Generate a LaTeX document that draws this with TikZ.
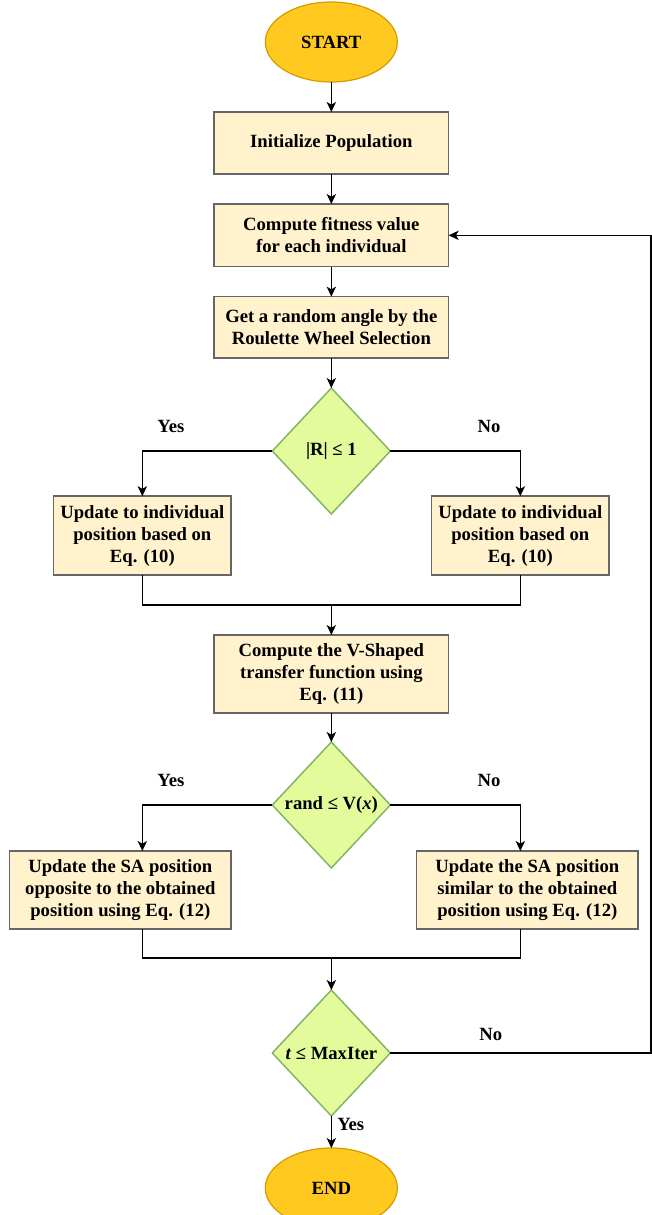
\documentclass[tikz,border=0pt]{standalone}
\usepackage{fontspec}
\setmainfont{Liberation Serif}
\usetikzlibrary{arrows.meta,positioning,shapes.geometric,calc}

\definecolor{termfill}{HTML}{FFC91F}
\definecolor{termline}{HTML}{D79B00}
\definecolor{procfill}{HTML}{FFF2CC}
\definecolor{procline}{HTML}{666666}
\definecolor{decfill}{HTML}{E4FB9C}
\definecolor{decline}{HTML}{82B366}

\begin{document}
\begin{tikzpicture}[font=\fontsize{14}{16.5}\selectfont\bfseries, node distance=22.5pt]

% Styles
\tikzset{
  terminal/.style={
    ellipse,
    draw=termline,
    fill=termfill,
    line width=0.9pt,
    minimum width=99pt,
    minimum height=60pt,
    inner sep=0pt,
    outer sep=0pt
  },
  process/.style={
    draw=procline,
    fill=procfill,
    line width=1.1pt,
    rectangle,
    minimum width=176pt,
    minimum height=46.5pt,
    inner sep=3pt,
    outer sep=0pt,
    align=center
  },
  update/.style={
    process,
    minimum width=133pt,
    minimum height=59pt
  },
  updatesa/.style={
    process,
    minimum width=166pt,
    minimum height=58.5pt
  },
  decision/.style={
    diamond,
    draw=decline,
    fill=decfill,
    line width=1.1pt,
    minimum width=88.5pt,
    minimum height=94.5pt,
    inner sep=0pt,
    outer sep=0pt,
    align=center
  },
  flow/.style={
    -{Stealth[length=7.5pt, width=7pt, inset=2pt]},
    line width=0.9pt
  },
  link/.style={
    line width=0.9pt
  },
  answer/.style={
    inner sep=1pt
  }
}

% Page frame
\useasboundingbox (0,0) rectangle (489pt,-911.25pt);

% Main column
\node[terminal] (start) at (248.5pt,-31.5pt) {START};
\node[process, below=of start] (init) {Initialize Population};
\node[process, below=of init, minimum height=47pt] (fitness) {Compute fitness value\\for each individual};
\node[process, below=of fitness, minimum height=46pt] (angle) {Get a random angle by the\\Roulette Wheel Selection};
\node[decision, below=of angle] (rcheck) {|R| ≤ 1};

% First branch
\path (rcheck) ++(-141.75pt,-63.4pt) node[update] (updL) {Update to individual\\position based on\\Eq. (10)};
\path (rcheck) ++(141.75pt,-63.4pt) node[update] (updR) {Update to individual\\position based on\\Eq. (10)};
\coordinate (join1) at ($(rcheck)+(0,-115.5pt)$);

\node[process, below=of join1, minimum height=58.5pt] (vshape) {Compute the V-Shaped\\transfer function using\\Eq. (11)};
\node[decision, below=21.75pt of vshape] (vcheck) {rand ≤ V(\textit{x})};

% Second branch
\path (vcheck) ++(-158.25pt,-63.75pt) node[updatesa] (saL) {Update the SA position\\opposite to the obtained\\position using Eq. (12)};
\path (vcheck) ++(147pt,-63.75pt) node[updatesa] (saR) {Update the SA position\\similar to the obtained\\position using Eq. (12)};
\coordinate (colL) at ($(vcheck)+(-141.75pt,0)$);
\coordinate (colR) at ($(vcheck)+(141.75pt,0)$);
\coordinate (join2) at ($(vcheck)+(0,-114.75pt)$);

% Stop test
\node[decision, below=24pt of join2] (tcheck) {\textit{t} ≤ MaxIter};
\node[terminal, below=24pt of tcheck] (stop) {END};
\coordinate (back) at (488.25pt,0);

% Connectors
\draw[flow] (start) -- (init);
\draw[flow] (init) -- (fitness);
\draw[flow] (fitness) -- (angle);
\draw[flow] (angle) -- (rcheck);
\draw[flow] (rcheck.west) -| node[answer, pos=0.39, above=12pt] (yes1) {Yes} (updL.north);
\draw[flow] (rcheck.east) -| node[answer, pos=0.38, above=12pt] (no1) {No} (updR.north);
\draw[link] (updL.south) |- (join1) -| (updR.south);
\draw[flow] (join1) -- (vshape);
\draw[flow] (vshape) -- (vcheck);
\draw[flow] (vcheck.west) -| node[answer, pos=0.39, above=12pt] (yes2) {Yes} (saL.north -| colL);
\draw[flow] (vcheck.east) -| node[answer, pos=0.38, above=12pt] (no2) {No} (saR.north -| colR);
\draw[link] (saL.south -| colL) |- (join2) -| (saR.south -| colR);
\draw[flow] (join2) -- (tcheck);
\draw[flow] (tcheck) -- node[answer, pos=0.25, right=3pt] (yes3) {Yes} (stop);
\draw[flow] (tcheck.east) -- node[answer, pos=0.385, above=8pt] (no3) {No} (tcheck.east -| back) |- (fitness.east);

\end{tikzpicture}
\end{document}
